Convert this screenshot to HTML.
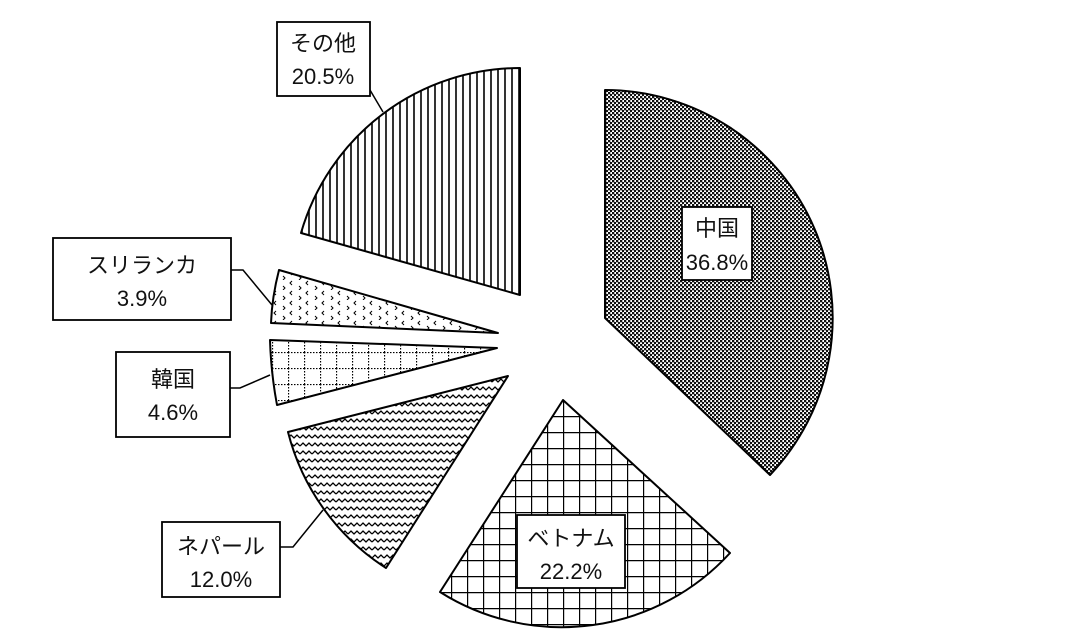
<!DOCTYPE html>
<html><head><meta charset="utf-8"><style>
html,body{margin:0;padding:0;background:#fff;width:1080px;height:640px;overflow:hidden}
svg text{font-family:"Liberation Sans","Noto Sans CJK JP",sans-serif;font-size:22px;fill:#111;text-anchor:middle}
</style></head><body>
<svg width="1080" height="640" viewBox="0 0 1080 640" xmlns="http://www.w3.org/2000/svg">
<defs>
<pattern id="china" width="4" height="4" patternUnits="userSpaceOnUse">
<rect width="4" height="4" fill="#fff"/><rect width="2.3" height="2.3" fill="#111"/><rect x="2" y="2" width="2.3" height="2.3" fill="#111"/>
</pattern>
<pattern id="grid" width="16" height="16" patternUnits="userSpaceOnUse" x="3" y="0">
<rect width="16" height="16" fill="#fff"/><path d="M0 0H16M0 0V16" stroke="#000" stroke-width="2.4"/>
</pattern>
<pattern id="wave" width="12" height="8" patternUnits="userSpaceOnUse">
<rect width="12" height="8" fill="#fff"/><path d="M0 6L3 3L6 6L9 3L12 6" stroke="#000" stroke-width="1.3" fill="none"/>
</pattern>
<pattern id="dotgrid" width="16" height="16" patternUnits="userSpaceOnUse">
<rect width="16" height="16" fill="#fff"/><path d="M0 0.5H16M0.5 0V16" stroke="#000" stroke-width="1.3" stroke-dasharray="1.5 1.5"/>
</pattern>
<pattern id="chev" width="16" height="10" patternUnits="userSpaceOnUse">
<rect width="16" height="10" fill="#fff"/><path d="M4 1L2 3L4 5M11 6L13 8L11 10" stroke="#000" stroke-width="1" fill="none"/>
</pattern>
<pattern id="vert" width="7" height="10" patternUnits="userSpaceOnUse">
<rect width="7" height="10" fill="#fff"/><path d="M1 0V10" stroke="#000" stroke-width="1.6"/>
</pattern>
</defs>
<g stroke="#000" stroke-width="2" stroke-linejoin="round">
<path d="M605,318 L605,90 A228,228 0 0 1 770,475 Z" fill="url(#china)"/>
<path d="M563,400 L730,553 A228,228 0 0 1 440,592 Z" fill="url(#grid)"/>
<path d="M508,376 L386,568 A228,228 0 0 1 288,432 Z" fill="url(#wave)"/>
<path d="M497,348 L270,340 Q271,373 277,405 Z" fill="url(#dotgrid)"/>
<path d="M498,333 L279,270 Q272,297 271,323 Z" fill="url(#chev)"/>
<path d="M520,295 L301,233 A228,228 0 0 1 520,68 Z" fill="url(#vert)"/>
</g>
<g stroke="#000" stroke-width="1.5" fill="none">
<path d="M370,90 L383,112"/>
<path d="M231,270 L243,270 L272,305"/>
<path d="M230,388 L240,388 L270,375"/>
<path d="M280,547 L293,547 L323,510"/>
</g>
<g stroke="#000" stroke-width="1.8" fill="#fff">
<rect x="277" y="22" width="93" height="74"/>
<rect x="53" y="238" width="178" height="82"/>
<rect x="116" y="352" width="114" height="85"/>
<rect x="162" y="522" width="118" height="75"/>
<rect x="682" y="207" width="70" height="73"/>
<rect x="517" y="515" width="108" height="73"/>
</g>
<text x="323" y="51">その他</text><text x="323" y="84">20.5%</text>
<text x="142" y="273">スリランカ</text><text x="142" y="306">3.9%</text>
<text x="173" y="387">韓国</text><text x="173" y="420">4.6%</text>
<text x="221" y="554">ネパール</text><text x="221" y="587">12.0%</text>
<text x="717" y="236">中国</text><text x="717" y="270">36.8%</text>
<text x="571" y="546">ベトナム</text><text x="571" y="579">22.2%</text>
</svg>
</body></html>
